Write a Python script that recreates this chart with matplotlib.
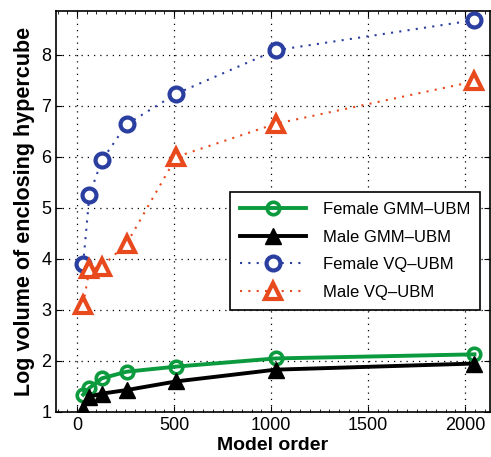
import matplotlib
matplotlib.use("Agg")
import matplotlib.pyplot as plt
from matplotlib.ticker import MultipleLocator

plt.rcParams['font.family'] = ['Liberation Sans', 'DejaVu Sans']

model_order = [32, 64, 128, 256, 512, 1024, 2048]
female_gmm = [1.34, 1.47, 1.66, 1.79, 1.89, 2.05, 2.13]
male_gmm = [1.06, 1.30, 1.36, 1.43, 1.60, 1.83, 1.95]
female_vq = [3.90, 5.25, 5.93, 6.64, 7.24, 8.09, 8.68]
male_vq = [3.10, 3.80, 3.85, 4.30, 6.00, 6.65, 7.48]

green = '#0b9a3d'
blue = '#2b3fa0'
red = '#e8491d'

fig = plt.figure(figsize=(4.91, 4.57), dpi=100)
ax = fig.add_axes([56/491, 45/457, 434/491, 401/457])

ax.plot(model_order, female_gmm, '-o', color=green, lw=2.8, ms=9,
        mfc='none', mec=green, mew=2.6, label='Female GMM\u2013UBM', zorder=3)
ax.plot(model_order, male_gmm, '-^', color='black', lw=2.8, ms=11,
        mfc='black', mec='black', label='Male GMM\u2013UBM', zorder=3)
ax.plot(model_order, female_vq, 'o', color=blue, ls=(0, (1, 3)), lw=1.5, ms=10,
        mfc='white', mec=blue, mew=3, label='Female VQ\u2013UBM', zorder=3)
ax.plot(model_order, male_vq, '^', color=red, ls=(0, (1, 3)), lw=1.5, ms=12,
        mfc='white', mec=red, mew=3, label='Male VQ\u2013UBM', zorder=3)

ax.set_xlim(-108, 2128)
ax.set_ylim(1, 8.86)
ax.set_xticks([0, 500, 1000, 1500, 2000])
ax.set_yticks([1, 2, 3, 4, 5, 6, 7, 8])
ax.xaxis.set_minor_locator(MultipleLocator(50))
ax.tick_params(direction='in', which='both', top=True, right=True, labelsize=13)
ax.tick_params(which='major', length=4)
ax.tick_params(which='minor', length=2)
ax.grid(True, which='major', ls=(0, (1, 4)), color='black', lw=0.9)
for s in ax.spines.values():
    s.set_linewidth(1.2)

ax.set_xlabel('Model order', fontsize=14, fontweight='bold', labelpad=2)
ax.set_ylabel('Log volume of enclosing hypercube', fontsize=15.5, fontweight='bold', labelpad=4)

leg = ax.legend(loc='upper left', bbox_to_anchor=(0.40, 0.548), fontsize=12,
                fancybox=False, edgecolor='black', framealpha=1,
                handlelength=4.0, handletextpad=1.0, borderpad=0.6,
                labelspacing=0.75, borderaxespad=0)
leg.get_frame().set_linewidth(1.2)

fig.savefig('out.png', dpi=100)
